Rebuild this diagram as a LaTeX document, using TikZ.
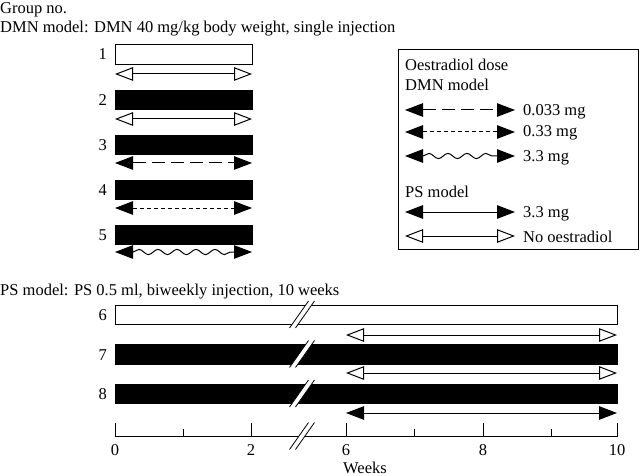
\documentclass[tikz,border=0pt]{standalone}
\usepackage{fontspec}
\setmainfont{Liberation Serif}
\usetikzlibrary{arrows.meta,decorations.pathmorphing}
\tikzset{
  txt/.style={inner sep=0pt, anchor=base west, font=\fontsize{16.5}{19}\selectfont},
  num/.style={inner sep=0pt, anchor=base east, font=\fontsize{16.5}{19}\selectfont},
  tick/.style={inner sep=0pt, anchor=base, font=\fontsize{16.5}{19}\selectfont},
  whitebar/.style={draw, line width=0.9pt, fill=white},
  blackbar/.style={draw, line width=0.9pt, fill=black},
  noe/.style={line width=1pt, {Triangle[open,length=18pt,width=13.5pt]}-{Triangle[open,length=18pt,width=13.5pt]}},
  hidose/.style={line width=1pt, {Triangle[length=18pt,width=13.5pt]}-{Triangle[length=18pt,width=13.5pt]}},
  lowdose/.style={hidose, dash pattern=on 13pt off 6pt},
  middose/.style={hidose, dash pattern=on 4pt off 3pt},
  wavedose/.style={hidose, decorate, decoration={snake, amplitude=2.6pt, segment length=19pt, pre length=18pt, post length=18pt}}
}
\newcommand\gapmark[2]{%
  \fill[white] (#1-3-9.5,#2+13.5) -- (#1-3+9.5,#2-13.5) -- (#1+3+9.5,#2-13.5) -- (#1+3-9.5,#2+13.5) -- cycle;
  \draw[line width=0.8pt] (#1-3-9.5,#2+13.5) -- (#1-3+9.5,#2-13.5);
  \draw[line width=0.8pt] (#1+3-9.5,#2+13.5) -- (#1+3+9.5,#2-13.5);}

\begin{document}
\begin{tikzpicture}[x=1pt,y=-1pt]
  \useasboundingbox (0,0) rectangle (640,476);
  \node[txt] (head) at (0,14) {Group no.};
  \node[txt] (dmnhead) at (0,32.5) {DMN model: DMN 40 mg/kg body weight, single injection};

  \draw[whitebar] (115,44) rectangle (252,64);
  \draw[blackbar] (115,90) rectangle (252,109);
  \draw[blackbar] (115,135) rectangle (252,154);
  \draw[blackbar] (115,180) rectangle (252,199);
  \draw[blackbar] (115,225) rectangle (252,244);
  \node[num] (g1) at (107,60) {1};
  \node[num] (g2) at (107,105.5) {2};
  \node[num] (g3) at (107,150.5) {3};
  \node[num] (g4) at (107,195.5) {4};
  \node[num] (g5) at (107,240.5) {5};

  \coordinate (d1l) at (115,74);  \coordinate (d1r) at (252,74);
  \coordinate (d2l) at (115,119); \coordinate (d2r) at (252,119);
  \coordinate (d3l) at (115,163); \coordinate (d3r) at (252,163);
  \coordinate (d4l) at (115,208); \coordinate (d4r) at (252,208);
  \coordinate (d5l) at (115,252); \coordinate (d5r) at (252,252);
  \draw[noe] (d1l) -- (d1r);
  \draw[noe] (d2l) -- (d2r);
  \draw[lowdose] (d3l) -- (d3r);
  \draw[middose] (d4l) -- (d4r);
  \draw[wavedose] (d5l) -- (d5r);

  \draw[line width=0.8pt] (398,49) rectangle (638,249);
  \node[txt] (lghead) at (405,71) {Oestradiol dose};
  \node[txt] (lgdmn) at (405,91) {DMN model};
  \coordinate (k1l) at (405,110); \coordinate (k1r) at (515,110);
  \coordinate (k2l) at (405,132); \coordinate (k2r) at (515,132);
  \coordinate (k3l) at (405,156); \coordinate (k3r) at (515,156);
  \draw[lowdose] (k1l) -- (k1r);
  \draw[middose] (k2l) -- (k2r);
  \draw[wavedose] (k3l) -- (k3r);
  \node[txt] (k1t) at (523,116) {0.033 mg};
  \node[txt] (k2t) at (523,137) {0.33 mg};
  \node[txt] (k3t) at (523,162) {3.3 mg};
  \node[txt] (lgps) at (405,197) {PS model};
  \coordinate (k4l) at (405,212); \coordinate (k4r) at (515,212);
  \coordinate (k5l) at (405,236); \coordinate (k5r) at (515,236);
  \draw[hidose] (k4l) -- (k4r);
  \draw[noe] (k5l) -- (k5r);
  \node[txt] (k4t) at (523,217) {3.3 mg};
  \node[txt] (k5t) at (523,242) {No oestradiol};

  \node[txt] (pshead) at (0,295) {PS model: PS 0.5 ml, biweekly injection, 10 weeks};
  \draw[whitebar] (115,305) rectangle (617,324);
  \draw[blackbar] (115,344) rectangle (617,364);
  \draw[blackbar] (115,384) rectangle (617,403);
  \gapmark{302}{314.5}
  \gapmark{302}{354}
  \gapmark{302}{393.5}
  \node[num] (g6) at (107,320.5) {6};
  \node[num] (g7) at (107,360) {7};
  \node[num] (g8) at (107,399.5) {8};

  \coordinate (p6l) at (346,335); \coordinate (p6r) at (617,335);
  \coordinate (p7l) at (346,373); \coordinate (p7r) at (617,373);
  \coordinate (p8l) at (346,413); \coordinate (p8r) at (617,413);
  \draw[noe] (p6l) -- (p6r);
  \draw[noe] (p7l) -- (p7r);
  \draw[hidose] (p8l) -- (p8r);

  \draw[line width=0.8pt] (115,423) -- (115,436) -- (617,436) -- (617,423);
  \draw[line width=0.8pt] (251,423) -- (251,436);
  \draw[line width=0.8pt] (346,423) -- (346,436);
  \draw[line width=0.8pt] (483,423) -- (483,436);
  \draw[line width=0.8pt] (183,429) -- (183,436);
  \draw[line width=0.8pt] (414,429) -- (414,436);
  \draw[line width=0.8pt] (551,429) -- (551,436);
  \gapmark{302}{436}
  \node[tick] (t0) at (115,455) {0};
  \node[tick] (t2) at (251,455) {2};
  \node[tick] (t6) at (346,455) {6};
  \node[tick] (t8) at (483,455) {8};
  \node[tick] (t10) at (617,455) {10};
  \node[tick] (weeks) at (365,473) {Weeks};
\end{tikzpicture}
\end{document}
